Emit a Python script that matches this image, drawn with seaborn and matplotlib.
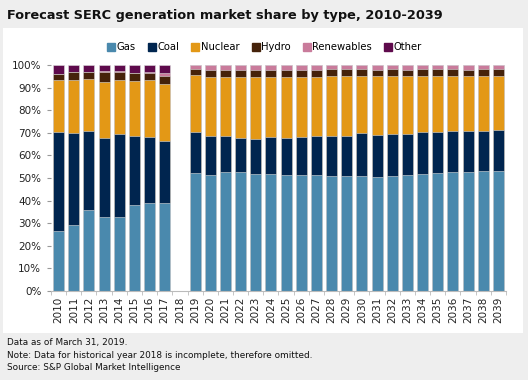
import numpy as np
import pandas as pd
import matplotlib
matplotlib.use("Agg")
import matplotlib.pyplot as plt
import seaborn as sns
from matplotlib.patches import Rectangle
from matplotlib.lines import Line2D
from matplotlib.ticker import FixedLocator

nan = np.nan

years = [str(y) for y in range(2010, 2040)]

# shares in percent, 2018 omitted (incomplete)
gas = [26.5, 29.2, 35.8, 32.7, 32.7, 38.1, 38.9, 38.9, nan,
       52.2, 51.2, 52.7, 52.7, 51.6, 51.6, 51.2, 51.2, 51.2, 50.7, 50.7,
       50.7, 50.3, 50.7, 51.2, 51.6, 52.2, 52.7, 52.7, 53.0, 53.0]
coal = [43.7, 40.6, 35.0, 34.9, 36.6, 30.6, 29.4, 27.5, nan,
        18.0, 17.5, 16.0, 15.1, 15.7, 16.7, 16.6, 17.1, 17.5, 18.0, 18.0,
        19.1, 18.7, 18.9, 18.4, 18.6, 18.0, 17.9, 17.9, 17.6, 18.1]
nuclear = [23.0, 23.4, 23.0, 24.7, 23.9, 24.2, 24.9, 25.3, nan,
           25.4, 26.0, 26.0, 26.9, 27.4, 26.4, 26.9, 26.4, 26.0, 26.3, 26.3,
           25.2, 26.0, 25.4, 25.4, 24.8, 24.8, 24.4, 24.4, 24.4, 23.9]
hydro = [2.7, 3.6, 3.0, 4.8, 3.6, 3.4, 3.1, 3.3, nan,
         2.6, 3.1, 3.1, 3.1, 3.1, 3.1, 3.1, 3.1, 3.1, 3.1, 3.1,
         3.1, 2.8, 3.1, 2.8, 3.1, 3.1, 3.1, 2.8, 3.1, 3.1]
renewables = [0.2, 0.2, 0.2, 0.2, 0.4, 0.3, 0.4, 1.5, nan,
              1.7, 2.1, 2.1, 2.1, 2.1, 2.1, 2.1, 2.1, 2.1, 1.8, 1.8,
              1.9, 2.1, 1.8, 2.1, 1.8, 1.8, 1.8, 2.0, 1.8, 1.8]
other = [3.9, 3.0, 3.0, 2.7, 2.8, 3.4, 3.3, 3.5, nan,
         0.1, 0.1, 0.1, 0.1, 0.1, 0.1, 0.1, 0.1, 0.1, 0.1, 0.1,
         0.1, 0.1, 0.1, 0.1, 0.1, 0.1, 0.1, 0.1, 0.1, 0.1]

types = ["Gas", "Coal", "Nuclear", "Hydro", "Renewables", "Other"]
colors = ["#4a89ad", "#00254f", "#e39816", "#45220a", "#c97b9b", "#5e0a4c"]

df = pd.DataFrame({"year": years, "Gas": gas, "Coal": coal, "Nuclear": nuclear,
                   "Hydro": hydro, "Renewables": renewables, "Other": other})
cum = df[types].cumsum(axis=1)
cum["year"] = df["year"]

fig = plt.figure(figsize=(5.28, 3.8), dpi=100)
fig.patch.set_facecolor("#eeeeee")
fig.patches.append(Rectangle((3 / 528, 1 - 333 / 380), 520 / 528, 305 / 380,
                             transform=fig.transFigure, facecolor="white",
                             edgecolor="none", zorder=-1))
ax = fig.add_axes([51 / 528, 1 - 291 / 380, 455 / 528, 226 / 380])
ax.set_facecolor("white")

# draw cumulative tops from highest to lowest so lower series overlay
for t, c in zip(types[::-1], colors[::-1]):
    sns.barplot(data=cum, x="year", y=t, order=years, color=c, ax=ax,
                width=0.72, edgecolor="#dddddd", linewidth=0.4,
                saturation=1, errorbar=None)

ax.set_ylim(0, 100)
ax.set_xlim(-0.5, 29.5)
ax.set_yticks(range(0, 101, 10))
ax.set_yticklabels([f"{v}%" for v in range(0, 101, 10)])
ax.set_xlabel("")
ax.set_ylabel("")
ax.tick_params(axis="x", length=0, labelrotation=90, labelsize=7.5, pad=4,
               colors="#222222")
ax.tick_params(axis="y", length=3, color="#999999", labelsize=7.5, pad=4,
               labelcolor="#222222")
ax.xaxis.set_minor_locator(FixedLocator(np.arange(-0.5, 30, 1)))
ax.tick_params(axis="x", which="minor", length=3, color="#bbbbbb")
for s in ["top", "right", "left"]:
    ax.spines[s].set_visible(False)
ax.spines["bottom"].set_color("#bbbbbb")

handles = [Line2D([0], [0], marker="s", linestyle="none", markersize=6,
                  markerfacecolor=c, markeredgecolor=c, label=t)
           for t, c in zip(types, colors)]
fig.legend(handles=handles, loc="center", bbox_to_anchor=(0.5, 1 - 47 / 380),
           ncol=6, frameon=False, fontsize=7.2, handletextpad=0.05,
           columnspacing=1.1, handlelength=1.0)

fig.text(7 / 528, 1 - 15 / 380, "Forecast SERC generation market share by type, 2010-2039",
         fontsize=9.3, fontweight="bold", va="center", ha="left", color="#111111")
fig.text(7 / 528, 1 - 343 / 380, "Data as of March 31, 2019.", fontsize=6.4,
         va="center", color="#111111")
fig.text(7 / 528, 1 - 355 / 380,
         "Note: Data for historical year 2018 is incomplete, therefore omitted.",
         fontsize=6.4, va="center", color="#111111")
fig.text(7 / 528, 1 - 368 / 380, "Source: S&P Global Market Intelligence",
         fontsize=6.4, va="center", color="#111111")

fig.savefig("out.png", dpi=100, facecolor=fig.get_facecolor())
